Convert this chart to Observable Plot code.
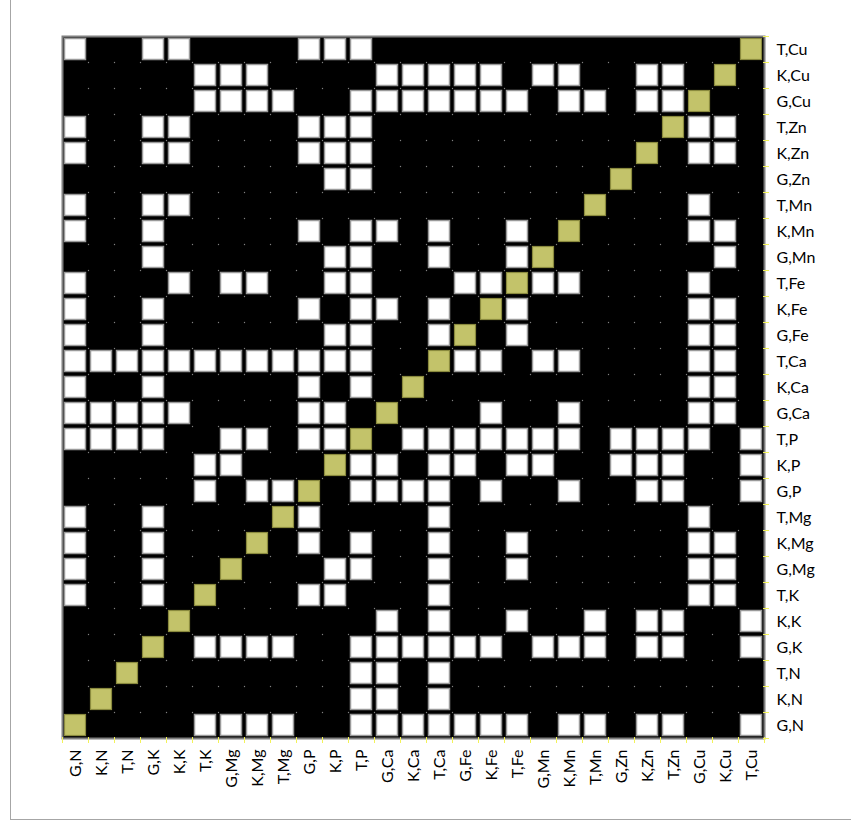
<!DOCTYPE html>
<html>
<head>
<meta charset="utf-8">
<script src="https://cdn.jsdelivr.net/npm/d3@7"></script>
<script src="https://cdn.jsdelivr.net/npm/@observablehq/plot@0.6"></script>
<style>
  body { margin: 0; background: #fff; }
  #wrap { position: relative; width: 851px; height: 822px; }
  #outer { position: absolute; left: 10px; top: -2px; width: 845px; height: 821px;
           border-left: 1px solid #a6a6a6; border-bottom: 1px solid #a6a6a6; pointer-events: none; }
</style>
</head>
<body>
<div id="wrap"><div id="outer"></div></div>
<script>
// Category labels (same order on both axes; first = bottom / left)
const labels = ["G,N","K,N","T,N","G,K","K,K","T,K","G,Mg","K,Mg","T,Mg","G,P","K,P","T,P",
  "G,Ca","K,Ca","T,Ca","G,Fe","K,Fe","T,Fe","G,Mn","K,Mn","T,Mn","G,Zn","K,Zn","T,Zn",
  "G,Cu","K,Cu","T,Cu"];

// One string per row (row label order as above); character k = column labels[k]; 1 = white cell
const rowFlags = [
  "000001111001111111011011001", // G,N
  "000000000001101000000000000", // K,N
  "000000000001101000000000000", // T,N
  "000001111001111110111011001", // G,K
  "000000000000101001001011001", // K,K
  "100100000110001000000000110", // T,K
  "100100000011001001000000110", // G,Mg
  "100100000101001001000000110", // K,Mg
  "100100000100001000000000100", // T,Mg
  "000001011001111010010011001", // G,P
  "000001100001101101100111001", // K,P
  "111100110110011111110111101", // T,P
  "111110000110000010010000110", // G,Ca
  "100100000101000000000000110", // K,Ca
  "111111111111000110110000110", // T,Ca
  "100100000011001001000000110", // G,Fe
  "100100000101101001000000110", // K,Fe
  "100010110011000110110000100", // T,Fe
  "000100000011001001000000010", // G,Mn
  "100100000101101001000000110", // K,Mn
  "100110000000000000000000100", // T,Mn
  "000000000011000000000000000", // G,Zn
  "100110000111000000000000110", // K,Zn
  "100110000111000000000000110", // T,Zn
  "000001111001111111011011000", // G,Cu
  "000001110000111110110011000", // K,Cu
  "100110000111000000000000000"  // T,Cu
];

const whiteCells = [];
rowFlags.forEach((s, r) => {
  [...s].forEach((c, k) => { if (c === "1") whiteCells.push({x: labels[k], y: labels[r]}); });
});
const diagCells = labels.map(l => ({x: l, y: l}));
const corners = [];
labels.slice(1).forEach(a => labels.slice(1).forEach(b => corners.push({x: a, y: b})));

const W = 851, H = 822, ML = 62, MR = 87, MT = 36, MB = 84;
const half = (W - ML - MR) / labels.length / 2;
const tickYellow = "#f2f25a";

const chart = Plot.plot({
  width: W, height: H,
  marginLeft: ML, marginRight: MR, marginTop: MT, marginBottom: MB,
  style: {fontFamily: "Lato, 'Open Sans', sans-serif", fontSize: "16px", color: "#000", background: "transparent"},
  x: {domain: labels, padding: 0, axis: null},
  y: {domain: labels, padding: 0, reverse: true, axis: null},
  marks: [
    Plot.frame({fill: "#000"}),
    Plot.cell(whiteCells, {x: "x", y: "y", fill: "#fff", stroke: "#9a9a9a", strokeWidth: 1.5, inset: 2.5}),
    Plot.cell(diagCells, {x: "x", y: "y", fill: "#c3c36a", stroke: "#8a8a3e", strokeWidth: 1.2, inset: 2.5}),
    Plot.dot(corners, {x: "x", y: "y", dx: -half, dy: half, r: 0.7, fill: "#808080"}),
    Plot.frame({stroke: "#7f7f7f", strokeWidth: 2}),
    // between-category ticks (yellow)
    Plot.ruleX(labels, {x: d => d, dx: -half, insetTop: H - MT - MB - 1, insetBottom: -5, stroke: tickYellow}),
    Plot.ruleX(labels.slice(-1), {x: d => d, dx: half, insetTop: H - MT - MB - 1, insetBottom: -5, stroke: tickYellow}),
    Plot.ruleY(labels, {y: d => d, dy: half, insetLeft: W - ML - MR - 1, insetRight: -5, stroke: tickYellow}),
    Plot.ruleY(labels.slice(-1), {y: d => d, dy: -half, insetLeft: W - ML - MR - 1, insetRight: -5, stroke: tickYellow}),
    Plot.axisX({anchor: "bottom", tickSize: 0, tickPadding: 11, tickRotate: -90, label: null, fontSize: 16}),
    Plot.axisY({anchor: "right", tickSize: 0, tickPadding: 12, label: null, fontSize: 16})
  ]
});
document.getElementById("wrap").prepend(chart);
</script>
</body>
</html>
